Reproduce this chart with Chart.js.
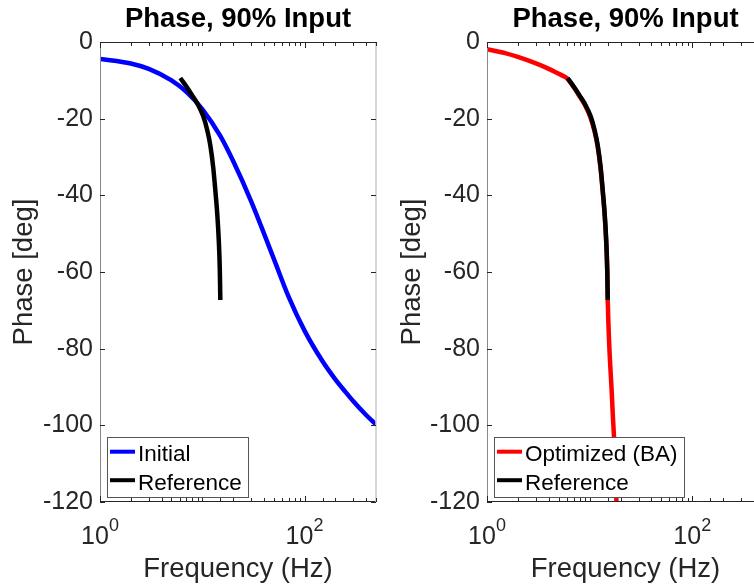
<!DOCTYPE html>
<html>
<head>
<meta charset="utf-8">
<script src="https://cdn.jsdelivr.net/npm/chart.js@4.4.1/dist/chart.umd.min.js"></script>
<style>
  html, body { margin: 0; padding: 0; background: #fff; }
  body { width: 754px; height: 586px; overflow: hidden; position: relative; }
  #leftChart { position: absolute; left: 0; top: 0; }
  #rightChart { position: absolute; left: 380px; top: 0; }
</style>
</head>
<body>
<canvas id="leftChart" width="390" height="586"></canvas>
<canvas id="rightChart" width="398" height="586"></canvas>
<script>
const FONT = '"Liberation Sans", Arial, Helvetica, sans-serif';

// Initial model (left plot)
const freqInitial  = [1, 2, 3, 5, 7, 10, 15, 20, 30, 50, 70, 100, 150, 200, 250, 300, 400, 500];
const phaseInitial = [-4.4, -5.6, -7, -10, -13, -17.5, -24.5, -31, -41.5, -56.5, -66.5, -75.3, -83.3, -88, -91.2, -93.7, -97.3, -99.8];

// Measured reference (both plots)
const freqReference  = [6.1, 7, 8, 8.93, 10.23, 11.19, 11.98, 12.82, 13.41, 14.03, 14.52, 14.85, 15.02];
const phaseReference = [-9.4, -11.6, -14, -16, -19.4, -23, -26.9, -32.9, -38.6, -45, -52, -59.5, -67.3];

// Optimized (BA) model (right plot)
const freqOptimized  = [1, 1.5, 2, 3, 4, 5, 5.6, 6.1, 7, 8, 8.93, 10.23, 11.19, 11.98, 12.82, 13.41, 14.03, 14.52, 14.85, 15.02, 16.6, 18.25, 18.6];
const phaseOptimized = [-1.9, -2.9, -3.9, -5.6, -7, -8.3, -8.95, -9.6, -11.8, -14.2, -16.3, -19.8, -23.4, -27.3, -33.3, -39, -45.4, -52.4, -59.9, -67.6, -94, -120, -133];

// Axes
const xMin = 1, xMax = 500;
const yMin = -120, yMax = 0, yStep = 20;
const xTickValues = [1, 100];

const titleText = 'Phase, 90% Input';
const xAxisLabel = 'Frequency (Hz)';
const yAxisLabel = 'Phase [deg]';

function toPoints(xs, ys) {
    return xs.map((x, i) => ({ x: x, y: ys[i] }));
}

// MATLAB-like box, inward ticks, superscript tick labels and inset legend
const matlabAxes = {
    id: 'matlabAxes',
    afterDatasetsDraw(chart) {
        const { ctx, chartArea: a, scales: { x, y } } = chart;
        ctx.save();

        // box
        ctx.lineWidth = 1;
        ctx.strokeStyle = '#262626';
        ctx.beginPath();
        ctx.moveTo(a.left, a.top + 0.5); ctx.lineTo(a.right, a.top + 0.5);
        ctx.moveTo(a.left, a.bottom - 0.5); ctx.lineTo(a.right, a.bottom - 0.5);
        ctx.stroke();
        ctx.strokeStyle = '#8a8a8a';
        ctx.beginPath();
        ctx.moveTo(a.left + 0.5, a.top); ctx.lineTo(a.left + 0.5, a.bottom);
        ctx.stroke();
        ctx.strokeStyle = '#c8c8c8';
        ctx.lineWidth = 1.5;
        ctx.beginPath();
        ctx.moveTo(a.right, a.top); ctx.lineTo(a.right, a.bottom);
        ctx.stroke();

        // inward ticks
        ctx.strokeStyle = '#262626';
        ctx.lineWidth = 1;
        ctx.beginPath();
        x.ticks.forEach(t => {
            const px = Math.round(x.getPixelForValue(t.value)) + 0.5;
            const len = xTickValues.includes(t.value) ? 6 : 4;
            ctx.moveTo(px, a.bottom); ctx.lineTo(px, a.bottom - len);
            ctx.moveTo(px, a.top); ctx.lineTo(px, a.top + len);
        });
        y.ticks.forEach(t => {
            const py = Math.round(y.getPixelForValue(t.value)) + 0.5;
            ctx.moveTo(a.left, py); ctx.lineTo(a.left + 5, py);
            ctx.moveTo(a.right, py); ctx.lineTo(a.right - 5, py);
        });
        ctx.stroke();

        // x tick labels as 10^n
        ctx.fillStyle = '#262626';
        ctx.textBaseline = 'alphabetic';
        ctx.textAlign = 'left';
        xTickValues.forEach(v => {
            const px = x.getPixelForValue(v);
            const base = '10';
            const sup = String(Math.round(Math.log10(v)));
            ctx.font = '25px ' + FONT;
            const wBase = ctx.measureText(base).width;
            ctx.font = '18px ' + FONT;
            const wSup = ctx.measureText(sup).width;
            const start = px - (wBase + wSup) / 2;
            ctx.font = '25px ' + FONT;
            ctx.fillText(base, start, a.bottom + 42);
            ctx.font = '18px ' + FONT;
            ctx.fillText(sup, start + wBase, a.bottom + 29);
        });

        // legend
        const items = chart.data.datasets;
        ctx.font = '22.5px ' + FONT;
        const textW = Math.max(...items.map(d => ctx.measureText(d.label).width));
        const bx = a.left + 7, by = a.bottom - 65;
        const bw = 3 + 25 + 3 + textW + 6, bh = 60;
        ctx.fillStyle = '#fff';
        ctx.fillRect(bx, by, bw, bh);
        ctx.strokeStyle = '#555';
        ctx.lineWidth = 1;
        ctx.strokeRect(Math.round(bx) + 0.5, by + 0.5, Math.round(bw), bh);
        items.forEach((d, i) => {
            const cy = by + 14.7 + i * 28.5;
            ctx.strokeStyle = d.borderColor;
            ctx.lineWidth = 4;
            ctx.lineCap = 'butt';
            ctx.beginPath();
            ctx.moveTo(bx + 3, cy); ctx.lineTo(bx + 28, cy);
            ctx.stroke();
            ctx.fillStyle = '#000';
            ctx.fillText(d.label, bx + 31, cy + 9.3);
        });

        ctx.restore();
    }
};

function makeChart(id, datasets, yAxisWidth, yTitlePad) {
    return new Chart(document.getElementById(id), {
        type: 'line',
        data: { datasets: datasets },
        options: {
            responsive: false,
            animation: false,
            layout: { padding: { left: 0, right: 14, top: 0, bottom: 0 } },
            plugins: {
                legend: { display: false },
                tooltip: { enabled: false },
                title: {
                    display: true,
                    text: titleText,
                    fullSize: false,
                    color: '#000',
                    font: { family: FONT, size: 27.5, weight: 'bold', lineHeight: 1.2 },
                    padding: { top: 3, bottom: 6 }
                }
            },
            scales: {
                x: {
                    type: 'logarithmic',
                    min: xMin,
                    max: xMax,
                    ticks: { display: false },
                    grid: { display: false, drawTicks: false },
                    border: { display: false },
                    title: {
                        display: true,
                        text: xAxisLabel,
                        color: '#262626',
                        font: { family: FONT, size: 27.5, lineHeight: 1.2 },
                        padding: { top: 0, bottom: 0 }
                    },
                    afterFit: s => { s.height = 84; }
                },
                y: {
                    min: yMin,
                    max: yMax,
                    ticks: {
                        stepSize: yStep,
                        color: '#262626',
                        padding: 7,
                        font: { family: FONT, size: 25 }
                    },
                    grid: { display: false, drawTicks: false },
                    border: { display: false },
                    title: {
                        display: true,
                        text: yAxisLabel,
                        color: '#262626',
                        font: { family: FONT, size: 27.5, lineHeight: 1.2 },
                        padding: { top: yTitlePad, bottom: 0 }
                    },
                    afterFit: s => { s.width = yAxisWidth; }
                }
            }
        },
        plugins: [matlabAxes]
    });
}

const lineStyle = { borderWidth: 4.5, pointRadius: 0, cubicInterpolationMode: 'monotone', fill: false };

makeChart('leftChart', [
    Object.assign({ label: 'Initial', data: toPoints(freqInitial, phaseInitial), borderColor: '#0000ff', order: 2 }, lineStyle),
    Object.assign({ label: 'Reference', data: toPoints(freqReference, phaseReference), borderColor: '#000000', order: 1 }, lineStyle)
], 100, 7.5);

makeChart('rightChart', [
    Object.assign({ label: 'Optimized (BA)', data: toPoints(freqOptimized, phaseOptimized), borderColor: '#ff0000', order: 2 }, lineStyle),
    Object.assign({ label: 'Reference', data: toPoints(freqReference, phaseReference), borderColor: '#000000', order: 1 }, lineStyle)
], 107, 15.6);
</script>
</body>
</html>
